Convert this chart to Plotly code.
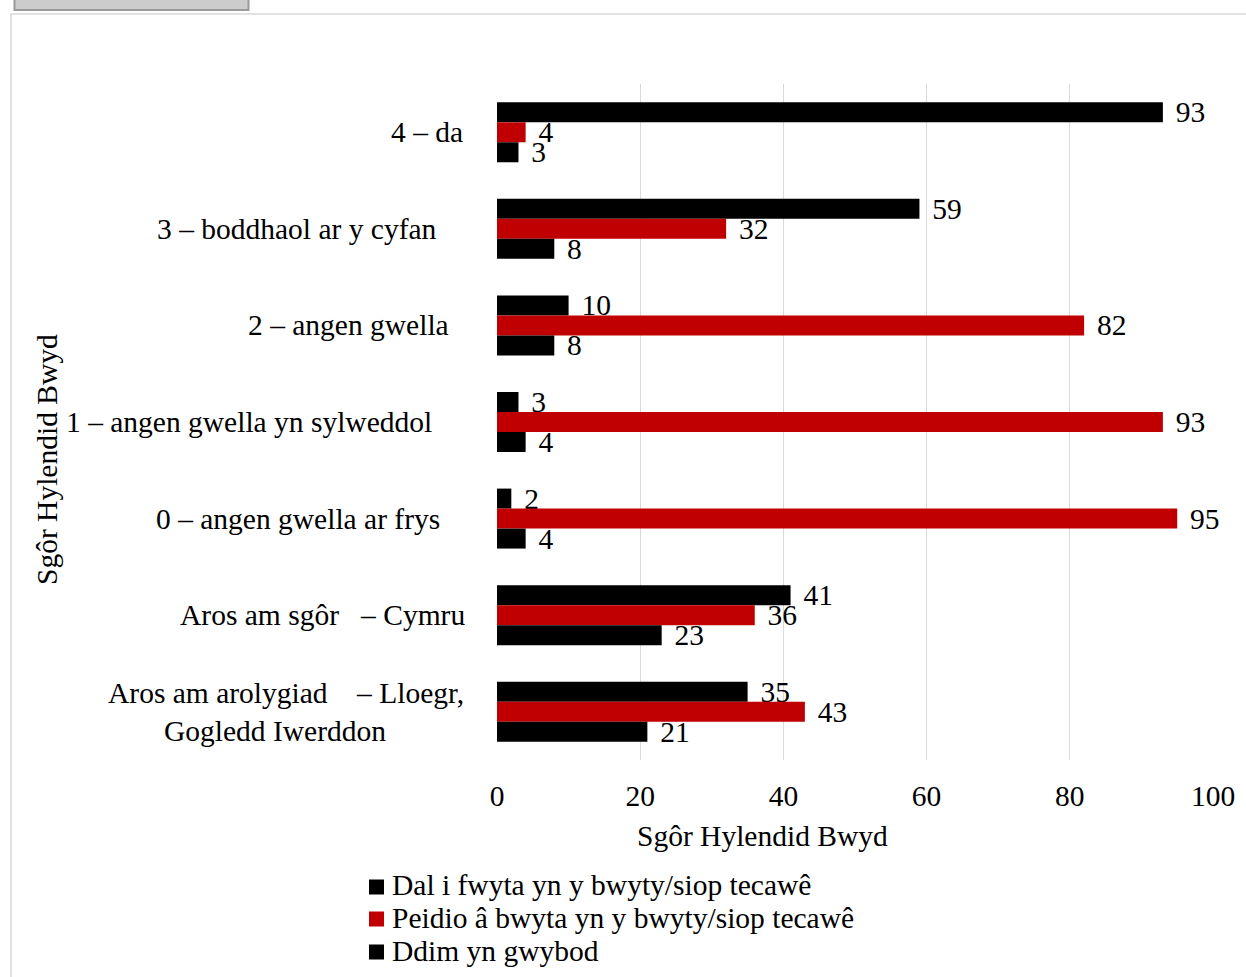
import plotly.graph_objects as go

# ---- data ----
categories = [
    "4 – da",
    "3 – boddhaol ar y cyfan",
    "2 – angen gwella",
    "1 – angen gwella yn sylweddol",
    "0 – angen gwella ar frys",
    "Aros am sgôr\u00a0\u00a0\u00a0– Cymru",
    "Aros am arolygiad\u00a0\u00a0\u00a0\u00a0– Lloegr,<br>Gogledd Iwerddon\u00a0\u00a0\u00a0",
]
series_names = [
    "Dal i fwyta yn y bwyty/siop tecawê",
    "Peidio â bwyta yn y bwyty/siop tecawê",
    "Ddim yn gwybod",
]
dal_i_fwyta = [93, 59, 10, 3, 2, 41, 35]
peidio = [4, 32, 82, 93, 95, 36, 43]
ddim_gwybod = [3, 8, 8, 4, 4, 23, 21]
x_ticks = [0, 20, 40, 60, 80, 100]
axis_title = "Sgôr Hylendid Bwyd"

# ---- styling / layout ----
W, H = 1246, 977
L, R, T, B = 497, 1213, 84, 760  # plot area in px
FONT = "Liberation Serif, Times New Roman, serif"
FS = 29.5
colors = ["#000000", "#C00000", "#000000"]


def px2x(px):
    return (px - L) / (R - L)


def px2y(py):
    return (B - py) / (B - T)


fig = go.Figure()
for name, vals, col in zip(series_names, [dal_i_fwyta, peidio, ddim_gwybod], colors):
    fig.add_trace(go.Bar(
        y=categories, x=vals, name=name, orientation="h",
        marker=dict(color=col, line=dict(width=0)),
        texttemplate="\u2004%{x}", textposition="outside",
        textfont=dict(family=FONT, size=FS, color="black"),
        constraintext="none", cliponaxis=False,
        showlegend=False,
    ))

annotations = []
# category labels (right edge px)
label_right_px = [463, 437, 449, 432, 440, 465, 464]
for cat, rpx in zip(categories, label_right_px):
    annotations.append(dict(
        text=cat, xref="paper", yref="y", x=px2x(rpx + 2), y=cat,
        xanchor="right", yanchor="middle", align="center", showarrow=False,
        font=dict(family=FONT, size=FS, color="black"),
    ))

# axis titles
annotations.append(dict(
    text=axis_title, xref="paper", yref="paper", x=px2x(762), y=px2y(836),
    xanchor="center", yanchor="middle", showarrow=False,
    font=dict(family=FONT, size=FS, color="black"),
))
annotations.append(dict(
    text=axis_title, xref="paper", yref="paper", x=px2x(47), y=px2y(460),
    xanchor="center", yanchor="middle", showarrow=False, textangle=-90,
    font=dict(family=FONT, size=FS, color="black"),
))

shapes = []
# manual legend
legend_text_y = [885, 918, 951]
legend_sq_y = [887, 919, 952]
for name, col, ty, sy in zip(series_names, colors, legend_text_y, legend_sq_y):
    annotations.append(dict(
        text=name, xref="paper", yref="paper", x=px2x(390), y=px2y(ty),
        xanchor="left", yanchor="middle", showarrow=False,
        font=dict(family=FONT, size=FS, color="black"),
    ))
    shapes.append(dict(
        type="rect", xref="paper", yref="paper",
        x0=px2x(369), x1=px2x(384), y0=px2y(sy - 7.5), y1=px2y(sy + 7.5),
        fillcolor=col, line=dict(width=0),
    ))

# frame & top tab
shapes.append(dict(
    type="rect", xref="paper", yref="paper",
    x0=px2x(11), x1=px2x(1270), y0=px2y(14), y1=px2y(1000),
    line=dict(color="#e2e2e2", width=2), fillcolor="rgba(0,0,0,0)", layer="below",
))
shapes.append(dict(
    type="rect", xref="paper", yref="paper",
    x0=px2x(14.5), x1=px2x(248.5), y0=px2y(-5), y1=px2y(10),
    line=dict(color="#9a9a9a", width=2), fillcolor="#cccccc",
))

fig.update_layout(
    width=W, height=H,
    margin=dict(l=L, r=W - R, t=T, b=H - B, pad=0),
    paper_bgcolor="white", plot_bgcolor="white",
    barmode="group", bargap=0.379, bargroupgap=0,
    showlegend=False,
    font=dict(family=FONT, size=FS, color="black"),
    xaxis=dict(
        range=[0, 100], tickvals=x_ticks, ticktext=[str(v) for v in x_ticks],
        showgrid=True, gridcolor="#d9d9d9", gridwidth=1,
        zeroline=False, showline=False, ticks="",
        ticklabelstandoff=15,
        tickfont=dict(family=FONT, size=FS, color="black"),
    ),
    yaxis=dict(
        autorange="reversed", showticklabels=False, showgrid=False,
        zeroline=False, showline=False, ticks="",
    ),
    annotations=annotations,
    shapes=shapes,
)

fig.write_html("out.html", config={"displayModeBar": False},
               post_script="document.body.style.margin='0';")
